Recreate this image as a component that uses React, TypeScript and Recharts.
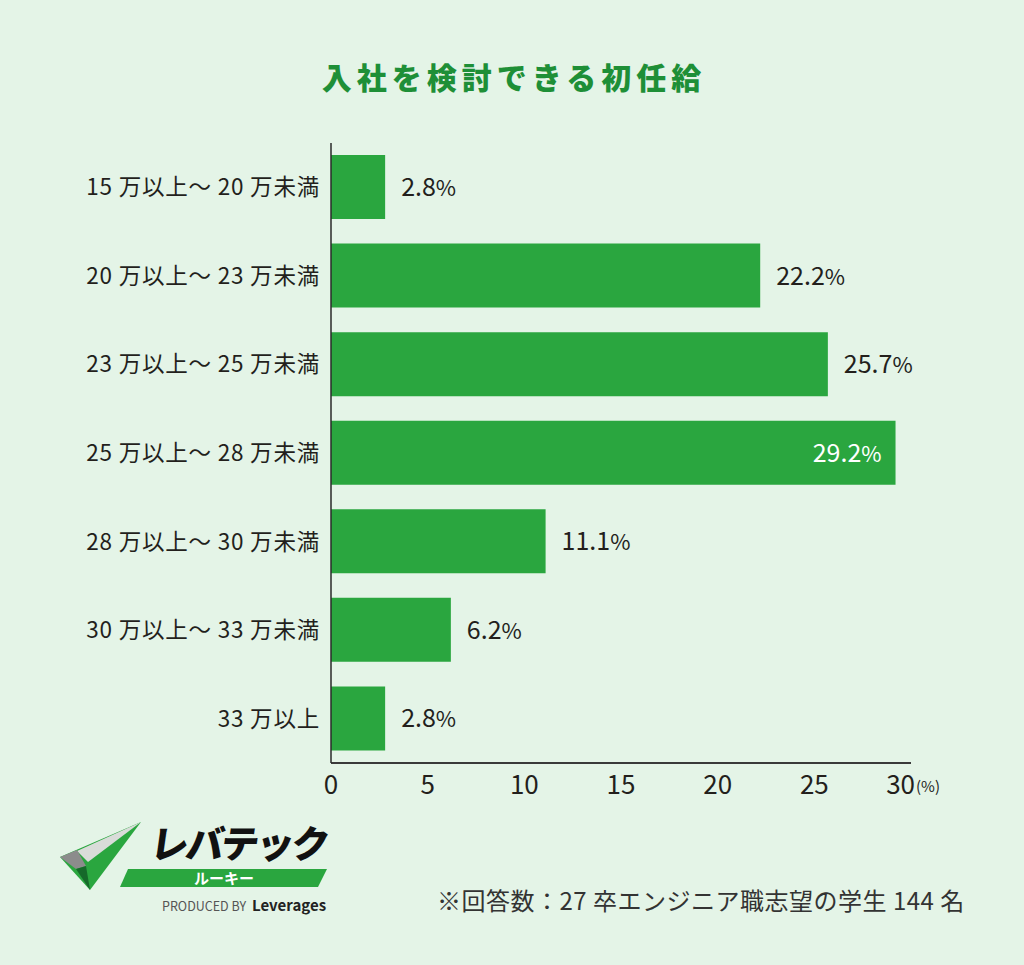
import React from 'react';
import { BarChart, Bar, XAxis, YAxis, LabelList } from 'recharts';

const categories = [
  '15 万以上〜 20 万未満',
  '20 万以上〜 23 万未満',
  '23 万以上〜 25 万未満',
  '25 万以上〜 28 万未満',
  '28 万以上〜 30 万未満',
  '30 万以上〜 33 万未満',
  '33 万以上',
];
const shares = [2.8, 22.2, 25.7, 29.2, 11.1, 6.2, 2.8];
const xTicks = [0, 5, 10, 15, 20, 25, 30];

const title = '入社を検討できる初任給';
const note = '※回答数：27 卒エンジニア職志望の学生 144 名';

const data = categories.map((label, i) => ({ label, value: shares[i] }));
const maxValue = Math.max(...shares);

const FONT = '"Noto Sans CJK JP", "Noto Sans", sans-serif';
const BG = '#e4f4e7';
const GREEN = '#2aa63f';
const TEXT = '#231f1c';

const CategoryTick = (props: any) => {
  const { x, y, payload } = props;
  return (
    <text x={x - 9} y={y} dy={8} textAnchor="end" fontFamily={FONT} fontSize={22.5} fill={TEXT} letterSpacing={0.8}>
      {payload.value}
    </text>
  );
};

const ValueTick = (props: any) => {
  const { x, y, payload } = props;
  if (payload.value === 30) {
    return (
      <g>
        <text x={x + 4} y={y + 29} textAnchor="end" fontFamily={FONT} fontSize={26} fill={TEXT}>
          {payload.value}
        </text>
        <text x={x + 5} y={y + 27} textAnchor="start" fontFamily={FONT} fontSize={15} fill={TEXT}>
          (%)
        </text>
      </g>
    );
  }
  return (
    <text x={x} y={y + 29} textAnchor="middle" fontFamily={FONT} fontSize={26} fill={TEXT}>
      {payload.value}
    </text>
  );
};

const ValueLabel = (props: any) => {
  const { x, y, width, height, value } = props;
  const inside = value === maxValue;
  const cy = y + height / 2;
  const tx = inside ? x + width - 14 : x + width + 16;
  return (
    <text
      x={tx}
      y={cy + 9}
      textAnchor={inside ? 'end' : 'start'}
      fontFamily={FONT}
      fontSize={25}
      fill={inside ? '#ffffff' : TEXT}
    >
      {Number(value).toFixed(1)}
      <tspan fontSize={22}>%</tspan>
    </text>
  );
};

const Logo = () => (
  <svg width={1024} height={965} style={{ position: 'absolute', left: 0, top: 0, pointerEvents: 'none' }}>
    {/* mark */}
    <polygon points="60,857 141,822 90,890" fill={GREEN} />
    <polygon points="77,851 141,822 88,862" fill="#d9dcd9" />
    <polygon points="60,857 77,850 86,866 76,869" fill="#8c8c8c" />
    <polygon points="76,869 86,866 90,890" fill="#16692a" />
    {/* wordmark */}
    <text
      x={149}
      y={858}
      fontFamily={FONT}
      fontSize={38}
      fontWeight={900}
      fill="#111"
      letterSpacing={-2.8}
      transform="translate(0,858) skewX(-8) translate(0,-858)"
    >
      レバテック
    </text>
    <polygon points="128,869 327,869 318,887 120,887" fill={GREEN} />
    <text x={224} y={884} textAnchor="middle" fontFamily={FONT} fontSize={15} fontWeight={700} fill="#fff">
      ルーキー
    </text>
    <text x={162} y={911} fontFamily={FONT} fontSize={12.5} fill="#555" letterSpacing={0}>
      PRODUCED BY
    </text>
    <text x={252} y={911} fontFamily={FONT} fontSize={15} fontWeight={700} fill="#222">
      Leverages
    </text>
  </svg>
);

export default function App() {
  return (
    <div style={{ position: 'absolute', left: 0, top: 0, width: 1024, height: 965, background: BG, overflow: 'hidden' }}>
      <div
        style={{
          position: 'absolute',
          top: 56,
          left: 2,
          width: 1024,
          textAlign: 'center',
          fontFamily: FONT,
          fontSize: 30,
          fontWeight: 900,
          letterSpacing: 5,
          color: '#1e8f37',
          lineHeight: '40px',
        }}
      >
        {title}
      </div>
      <BarChart
        width={1024}
        height={965}
        data={data}
        layout="vertical"
        margin={{ top: 143, right: 113, bottom: 172, left: 0 }}
      >
        <XAxis
          type="number"
          domain={[0, 30]}
          ticks={xTicks}
          tickLine={false}
          tickSize={0}
          height={30}
          axisLine={{ stroke: '#3a3a3a', strokeWidth: 2 }}
          tick={<ValueTick />}
          interval={0}
        />
        <YAxis
          type="category"
          dataKey="label"
          width={331}
          tickLine={false}
          tickSize={0}
          axisLine={{ stroke: '#2a2a2a', strokeWidth: 1.5 }}
          tick={<CategoryTick />}
          interval={0}
        />
        <Bar dataKey="value" fill={GREEN} barSize={64} isAnimationActive={false}>
          <LabelList dataKey="value" content={<ValueLabel />} />
        </Bar>
      </BarChart>
      <div
        style={{
          position: 'absolute',
          left: 437,
          top: 884,
          fontFamily: FONT,
          fontSize: 24,
          letterSpacing: 0.5,
          color: '#333',
          whiteSpace: 'nowrap',
          lineHeight: '32px',
        }}
      >
        {note}
      </div>
      <Logo />
    </div>
  );
}
